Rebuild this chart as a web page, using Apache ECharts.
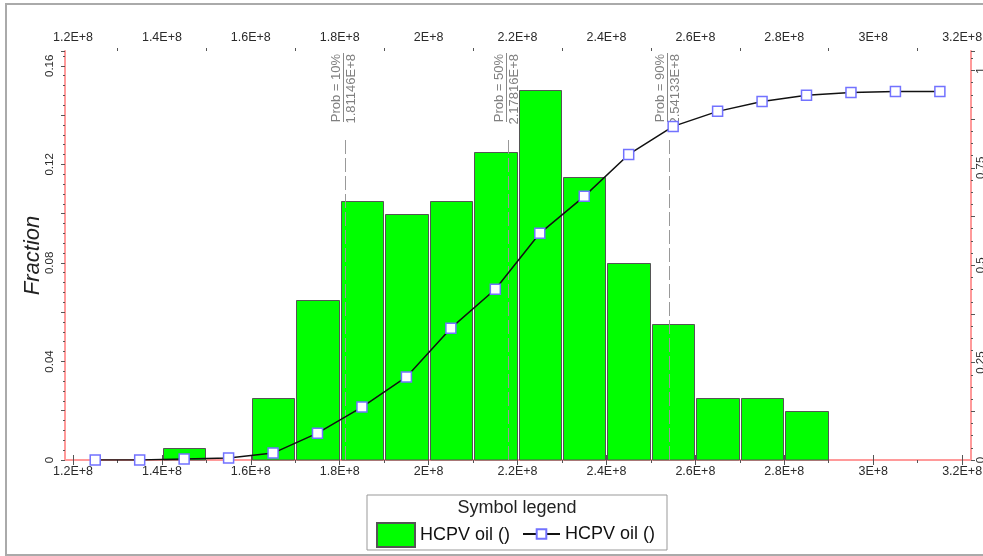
<!DOCTYPE html>
<html>
<head>
<meta charset="utf-8">
<script src="https://cdn.jsdelivr.net/npm/echarts@6/dist/echarts.min.js"></script>
<style>
html,body{margin:0;padding:0;background:#fff;}
#chart{width:983px;height:556px;}
</style>
</head>
<body>
<div id="chart"></div>
<script>
// ---- data ----
const binLeft  = [1.4e8, 1.6e8, 1.7e8, 1.8e8, 1.9e8, 2.0e8, 2.1e8, 2.2e8, 2.3e8, 2.4e8, 2.5e8, 2.6e8, 2.7e8, 2.8e8];
const binRight = [1.5e8, 1.7e8, 1.8e8, 1.9e8, 2.0e8, 2.1e8, 2.2e8, 2.3e8, 2.4e8, 2.5e8, 2.6e8, 2.7e8, 2.8e8, 2.9e8];
const fraction = [0.005, 0.025, 0.065, 0.105, 0.100, 0.105, 0.125, 0.150, 0.115, 0.080, 0.055, 0.025, 0.025, 0.020];

const cdfX = [1.25e8, 1.35e8, 1.45e8, 1.55e8, 1.65e8, 1.75e8, 1.85e8, 1.95e8, 2.05e8, 2.15e8,
              2.25e8, 2.35e8, 2.45e8, 2.55e8, 2.65e8, 2.75e8, 2.85e8, 2.95e8, 3.05e8, 3.15e8];
const cdfY = [0, 0, 0.0004, 0.0008, 0.0028, 0.0109, 0.0215, 0.0337, 0.0535, 0.0693,
              0.0920, 0.1070, 0.1240, 0.1354, 0.1415, 0.1455, 0.1480, 0.1492, 0.1496, 0.1496];

const probX    = [1.81146e8, 2.17816e8, 2.54133e8];
const probPct  = ['10%', '50%', '90%'];
const probText = ['1.81146E+8', '2.17816E+8', '2.54133E+8'];

const xTickValues = [1.2e8, 1.4e8, 1.6e8, 1.8e8, 2.0e8, 2.2e8, 2.4e8, 2.6e8, 2.8e8, 3.0e8, 3.2e8];
const xTickLabels = ['1.2E+8', '1.4E+8', '1.6E+8', '1.8E+8', '2E+8', '2.2E+8', '2.4E+8', '2.6E+8', '2.8E+8', '3E+8', '3.2E+8'];
const xMinorValues = [1.3e8, 1.5e8, 1.7e8, 1.9e8, 2.1e8, 2.3e8, 2.5e8, 2.7e8, 2.9e8, 3.1e8];
const yTickValues = [0, 0.04, 0.08, 0.12, 0.16];
const yTickLabels = ['0', '0.04', '0.08', '0.12', '0.16'];
const rTickValues = [0, 0.25, 0.5, 0.75, 1];
const rTickLabels = ['0', '0.25', '0.5', '0.75', '1'];

const legendTitle = 'Symbol legend';
const seriesLabel = 'HCPV oil ()';

// ---- chart ----
const FONT = 'Liberation Sans, Arial, sans-serif';
const PINK = '#ff9a9a';
const TICK = '#555';
const chart = echarts.init(document.getElementById('chart'), null, {renderer: 'canvas'});

function xAxisBase(pos, minor) {
  return {
    type: 'value', position: pos, min: 1.182e8, max: 3.220e8,
    axisLine: {show: !minor, lineStyle: {color: PINK, width: 2}},
    splitLine: {show: false},
    axisTick: {show: true, inside: false, length: minor ? 3 : 5,
      customValues: minor ? xMinorValues : xTickValues, lineStyle: {color: TICK, width: 1}},
    axisLabel: minor ? {show: false} : {
      show: true, customValues: xTickValues, margin: pos === 'top' ? 7 : 5,
      fontFamily: FONT, fontSize: 12.5, color: '#2a2a2a',
      formatter: function (v) {
        const i = xTickValues.findIndex(t => Math.abs(t - v) < 1);
        return i >= 0 ? xTickLabels[i] : '';
      }
    }
  };
}

const option = {
  animation: false,
  backgroundColor: '#fff',
  grid: {left: 65, right: 12, top: 51, bottom: 96, containLabel: false, outerBoundsMode: 'none'},
  xAxis: [xAxisBase('bottom', false), xAxisBase('top', false), xAxisBase('bottom', true), xAxisBase('top', true)],
  yAxis: [
    {
      type: 'value', position: 'left', min: 0, max: 0.166, interval: 0.02,
      name: 'Fraction', nameLocation: 'middle', nameGap: 21, nameMoveOverlap: false,
      nameTextStyle: {fontFamily: FONT, fontSize: 22, fontStyle: 'italic', color: '#222'},
      axisLine: {show: true, lineStyle: {color: PINK, width: 2}},
      splitLine: {show: false},
      axisTick: {show: true, length: 4, lineStyle: {color: TICK}},
      minorTick: {show: true, splitNumber: 5, length: 2, lineStyle: {color: TICK}},
      axisLabel: {
        customValues: yTickValues, rotate: 90, margin: 9,
        fontFamily: FONT, fontSize: 11.5, color: '#2a2a2a',
        formatter: function (v) {
          const i = yTickValues.findIndex(t => Math.abs(t - v) < 1e-9);
          return i >= 0 ? yTickLabels[i] : '';
        }
      }
    },
    {
      type: 'value', position: 'right', min: 0, max: 1.05, interval: 0.125,
      axisLine: {show: true, lineStyle: {color: PINK, width: 2}},
      splitLine: {show: false},
      axisTick: {show: true, length: 4, lineStyle: {color: TICK}},
      minorTick: {show: true, splitNumber: 4, length: 2, lineStyle: {color: TICK}},
      axisLabel: {
        customValues: rTickValues, rotate: 90, margin: 4,
        fontFamily: FONT, fontSize: 11.5, color: '#2a2a2a',
        formatter: function (v) {
          const i = rTickValues.findIndex(t => Math.abs(t - v) < 1e-9);
          return i >= 0 ? rTickLabels[i] : '';
        }
      }
    }
  ],
  legend: [
    {
      left: 376, top: 522, itemWidth: 38, itemHeight: 24, itemGap: 0, padding: 0,
      textStyle: {fontFamily: FONT, fontSize: 18, color: '#111'},
      formatter: function () { return seriesLabel; },
      data: [{name: 'hist', icon: 'rect'}],
      selectedMode: false
    },
    {
      left: 522, top: 525, itemWidth: 37, itemHeight: 12, itemGap: 0, padding: 0,
      textStyle: {fontFamily: FONT, fontSize: 18, color: '#111'},
      formatter: function () { return seriesLabel; },
      data: [{name: 'cdf'}],
      selectedMode: false
    }
  ],
  graphic: [
    {type: 'rect', z: -10, shape: {x: 6, y: 4, width: 990, height: 551},
     style: {fill: 'none', stroke: '#aaa', lineWidth: 2}, silent: true},
    {type: 'rect', z: 0, shape: {x: 367, y: 495, width: 300, height: 55},
     style: {fill: '#fff', stroke: '#999', lineWidth: 1}, silent: true},
    {type: 'text', z: 1, x: 517, y: 508,
     style: {text: legendTitle, fontFamily: FONT, fontSize: 18, fill: '#222', align: 'center', verticalAlign: 'middle'}}
  ],
  series: [
    {
      name: 'hist', type: 'custom', xAxisIndex: 0, yAxisIndex: 0, z: 2,
      itemStyle: {color: '#00ff00', borderColor: '#555', borderWidth: 1},
      data: binLeft.map((l, i) => [l, binRight[i], fraction[i]]),
      encode: {x: [0, 1], y: 2},
      renderItem: function (params, api) {
        const p0 = api.coord([api.value(0), api.value(2)]);
        const p1 = api.coord([api.value(1), 0]);
        return {
          type: 'rect',
          shape: {x: Math.round(p0[0]) + 1.5, y: Math.round(p0[1]) + 0.5,
                  width: Math.round(p1[0]) - Math.round(p0[0]) - 2, height: Math.round(p1[1]) - Math.round(p0[1]) - 0.5},
          style: {fill: '#00ff00', stroke: '#555', lineWidth: 1}
        };
      }
    },
    {
      name: 'prob', type: 'custom', xAxisIndex: 0, yAxisIndex: 0, z: 3, silent: true,
      data: probX.map((x, i) => [x, i]),
      encode: {x: 0},
      renderItem: function (params, api) {
        const i = params.dataIndex;
        const p = api.coord([api.value(0), 0]);
        const top = params.coordSys.y;
        const x = Math.round(p[0]) + 0.5;
        return {
          type: 'group',
          children: [
            {type: 'line', shape: {x1: x, y1: p[1], x2: x, y2: top + 85},
             style: {stroke: '#999', lineWidth: 1, lineDash: [14, 4]}},
            {type: 'line', shape: {x1: x - 2, y1: top + 2, x2: x - 2, y2: top + 71},
             style: {stroke: '#888', lineWidth: 1}},
            {type: 'text', x: x - 3, y: top + 3, rotation: Math.PI / 2,
             style: {text: 'Prob = ' + probPct[i], fill: '#808080', font: '13px ' + FONT,
                     align: 'right', verticalAlign: 'bottom'}},
            {type: 'text', x: x - 1, y: top + 3, rotation: Math.PI / 2,
             style: {text: probText[i], fill: '#808080', font: '13px ' + FONT,
                     align: 'right', verticalAlign: 'top'}}
          ]
        };
      }
    },
    {
      name: 'cdf', type: 'line', xAxisIndex: 0, yAxisIndex: 0, z: 5,
      data: cdfX.map((x, i) => [x, cdfY[i]]),
      symbol: 'rect', symbolSize: 10, showAllSymbol: true,
      lineStyle: {color: '#111', width: 1.5},
      itemStyle: {color: '#fff', borderColor: '#7272ff', borderWidth: 1.5}
    }
  ]
};
chart.setOption(option);
</script>
</body>
</html>
